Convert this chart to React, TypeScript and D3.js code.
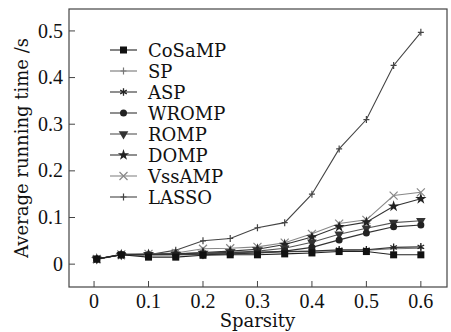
import React, { useEffect, useRef } from 'react';
import * as d3 from 'd3';

const sparsity = [0.005, 0.05, 0.1, 0.15, 0.2, 0.25, 0.3, 0.35, 0.4, 0.45, 0.5, 0.55, 0.6];
const algorithms = ['CoSaMP', 'SP', 'ASP', 'WROMP', 'ROMP', 'DOMP', 'VssAMP', 'LASSO'];

const cosampTimes = [0.011, 0.02, 0.015, 0.015, 0.019, 0.02, 0.02, 0.022, 0.024, 0.027, 0.027, 0.02, 0.02];
const spTimes = [0.011, 0.02, 0.02, 0.02, 0.022, 0.023, 0.024, 0.026, 0.028, 0.029, 0.03, 0.033, 0.034];
const aspTimes = [0.011, 0.021, 0.021, 0.022, 0.024, 0.025, 0.026, 0.027, 0.028, 0.031, 0.031, 0.036, 0.037];
const wrompTimes = [0.011, 0.02, 0.02, 0.02, 0.02, 0.022, 0.024, 0.028, 0.036, 0.052, 0.067, 0.08, 0.084];
const rompTimes = [0.011, 0.02, 0.02, 0.021, 0.022, 0.025, 0.028, 0.034, 0.047, 0.064, 0.077, 0.089, 0.093];
const dompTimes = [0.011, 0.02, 0.021, 0.022, 0.025, 0.028, 0.032, 0.042, 0.058, 0.08, 0.09, 0.124, 0.14];
const vssampTimes = [0.011, 0.021, 0.022, 0.024, 0.033, 0.034, 0.037, 0.046, 0.065, 0.087, 0.095, 0.147, 0.154];
const lassoTimes = [0.01, 0.02, 0.02, 0.03, 0.05, 0.055, 0.078, 0.089, 0.15, 0.247, 0.31, 0.426, 0.497];

const xTicks = [0, 0.1, 0.2, 0.3, 0.4, 0.5, 0.6];
const yTicks = [0, 0.1, 0.2, 0.3, 0.4, 0.5];

const seriesValues = [cosampTimes, spTimes, aspTimes, wrompTimes, rompTimes, dompTimes, vssampTimes, lassoTimes];
const markerKinds = ['square', 'plus', 'asterisk', 'circle', 'triangle', 'star', 'cross', 'lasso'];
const lineColors = ['#222', '#777', '#333', '#333', '#555', '#333', '#888', '#444'];

const W = 451;
const H = 332;
const wordFont = "'DejaVu Serif', 'Liberation Serif', serif";
const numFont = "'Liberation Serif', 'Times New Roman', serif";

const drawMarker = (g: d3.Selection<SVGGElement, unknown, null, undefined>, kind: string, x: number, y: number, color: string) => {
  const m = g.append('g').attr('transform', `translate(${x},${y})`);
  if (kind === 'square') {
    m.append('rect').attr('x', -3.5).attr('y', -3.5).attr('width', 7).attr('height', 7).attr('fill', '#111');
  } else if (kind === 'circle') {
    m.append('circle').attr('r', 3.5).attr('fill', '#222');
  } else if (kind === 'triangle') {
    m.append('path').attr('d', d3.symbol(d3.symbolTriangle, 40)()).attr('transform', 'rotate(180)').attr('fill', '#333');
  } else if (kind === 'star') {
    m.append('path').attr('d', d3.symbol(d3.symbolStar, 40)()).attr('fill', '#222');
  } else if (kind === 'asterisk') {
    m.append('path').attr('d', d3.symbol(d3.symbolAsterisk, 40)()).attr('stroke', '#222').attr('stroke-width', 1.3).attr('fill', 'none');
  } else if (kind === 'cross') {
    m.append('path').attr('d', 'M-4,-4L4,4M-4,4L4,-4').attr('stroke', color).attr('stroke-width', 1.2);
  } else if (kind === 'plus' || kind === 'lasso') {
    m.append('path').attr('d', 'M0,-3.5V3.5M-3,0H3').attr('stroke', color).attr('stroke-width', 1.2);
  }
};

const Chart: React.FC = () => {
  const ref = useRef<SVGSVGElement>(null);

  useEffect(() => {
    const margin = { top: 9, right: 4, bottom: 45, left: 69 };
    const innerW = W - margin.left - margin.right;
    const innerH = H - margin.top - margin.bottom;

    const svg = d3.select(ref.current);
    svg.selectAll('*').remove();
    const g = svg.append('g').attr('transform', `translate(${margin.left},${margin.top})`);

    const x = d3.scaleLinear().domain([-0.046, 0.648]).range([0, innerW]);
    const y = d3.scaleLinear().domain([-0.049, 0.547]).range([innerH, 0]);

    // frame
    g.append('rect')
      .attr('width', innerW)
      .attr('height', innerH)
      .attr('fill', 'none')
      .attr('stroke', '#444')
      .attr('stroke-width', 1.2);

    // ticks, pointing inward
    xTicks.forEach((t) => {
      g.append('line')
        .attr('x1', x(t)).attr('x2', x(t))
        .attr('y1', innerH).attr('y2', innerH - 6)
        .attr('stroke', '#444');
      g.append('text')
        .attr('x', x(t))
        .attr('y', innerH + 21)
        .attr('text-anchor', 'middle')
        .style('font-family', numFont)
        .style('font-size', '20px')
        .attr('fill', '#111')
        .text(d3.format('')(t));
    });
    yTicks.forEach((t) => {
      g.append('line')
        .attr('x1', 0).attr('x2', 6)
        .attr('y1', y(t)).attr('y2', y(t))
        .attr('stroke', '#444');
      g.append('text')
        .attr('x', -6)
        .attr('y', y(t))
        .attr('dy', '0.33em')
        .attr('text-anchor', 'end')
        .style('font-family', numFont)
        .style('font-size', '20px')
        .attr('fill', '#111')
        .text(d3.format('')(t));
    });

    // axis titles
    svg.append('text')
      .attr('x', margin.left + x(0.3))
      .attr('y', 327)
      .attr('text-anchor', 'middle')
      .style('font-family', wordFont)
      .style('font-size', '18px')
      .attr('fill', '#111')
      .text('Sparsity');
    svg.append('text')
      .attr('transform', 'translate(28,148) rotate(-90)')
      .attr('text-anchor', 'middle')
      .style('font-family', wordFont)
      .style('font-size', '18px')
      .attr('fill', '#111')
      .text('Average running time /s');

    // series
    const line = d3
      .line<number>()
      .x((_d, i) => x(sparsity[i]))
      .y((d) => y(d));

    const order = [7, 1, 6, 5, 4, 3, 2, 0];
    order.forEach((k) => {
      g.append('path')
        .attr('d', line(seriesValues[k]))
        .attr('fill', 'none')
        .attr('stroke', lineColors[k])
        .attr('stroke-width', 1.1);
    });
    order.forEach((k) => {
      seriesValues[k].forEach((v, i) => drawMarker(g, markerKinds[k], x(sparsity[i]), y(v), lineColors[k]));
    });

    // legend
    const legend = svg.append('g');
    algorithms.forEach((name, i) => {
      const cy = 50 + i * 21;
      legend.append('line')
        .attr('x1', 110).attr('x2', 137)
        .attr('y1', cy).attr('y2', cy)
        .attr('stroke', lineColors[i])
        .attr('stroke-width', 1.1);
      drawMarker(legend, markerKinds[i], 123.5, cy, lineColors[i]);
      legend.append('text')
        .attr('x', 148)
        .attr('y', cy + 6.5)
        .style('font-family', wordFont)
        .style('font-size', '18px')
        .attr('fill', '#111')
        .text(name);
    });
  }, []);

  return <svg ref={ref} width={W} height={H} style={{ display: 'block', background: '#fff' }} />;
};

export default function App() {
  return (
    <div style={{ position: 'absolute', left: 0, top: 0 }}>
      <Chart />
    </div>
  );
}
